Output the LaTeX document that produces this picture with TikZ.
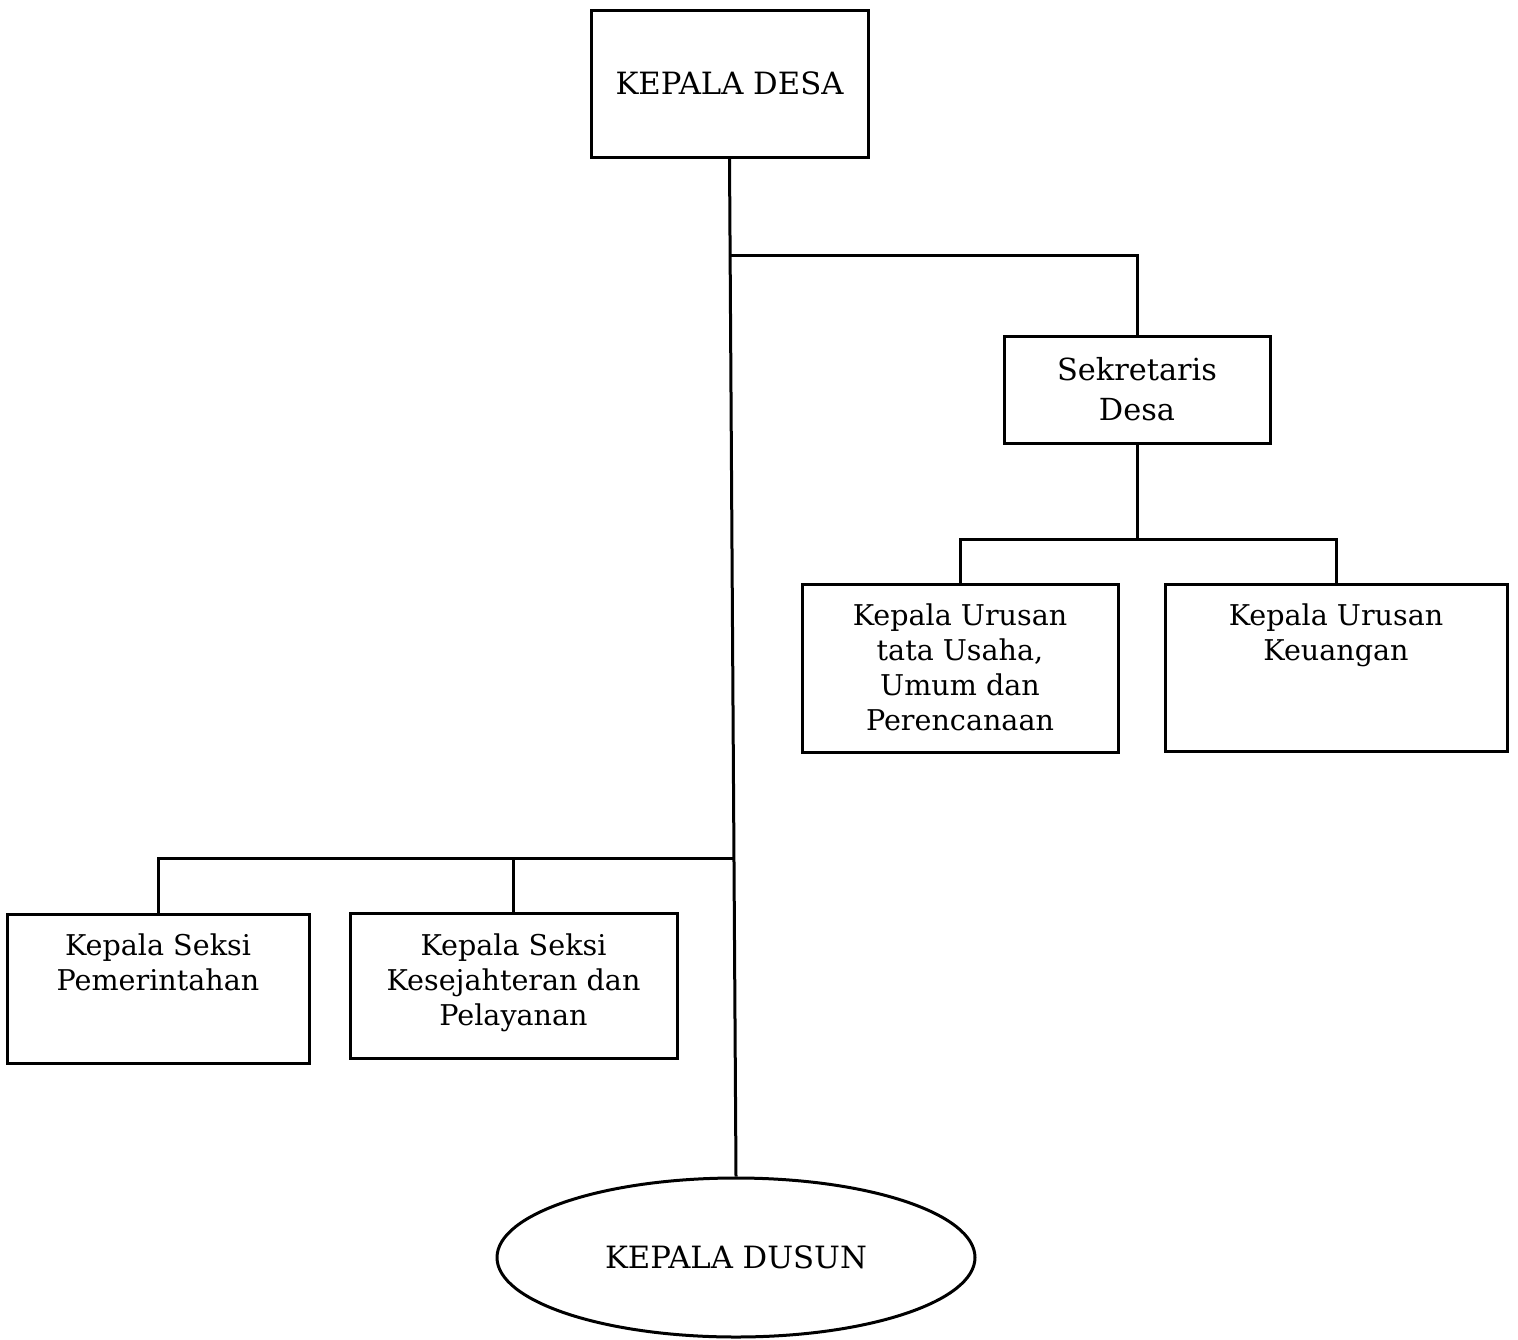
\documentclass[tikz,border=0pt]{standalone}
\usepackage{fontspec}
\setmainfont{DejaVu Serif}
\usetikzlibrary{shapes.geometric}
\begin{document}
\begin{tikzpicture}[x=1pt,y=-1pt,
  box/.style={draw,line width=3pt,rectangle,inner sep=0pt,align=center,font=\fontsize{28.6}{35}\selectfont},
  txt/.style={align=center,inner sep=0pt,font=\fontsize{28.6}{35}\selectfont},
  conn/.style={line width=3pt}]
\useasboundingbox (0,0) rectangle (1518,1339);
\node[box,minimum width=277pt,minimum height=147pt,font=\fontsize{30.7}{36}\selectfont] (desa) at (729.5,83.5) {KEPALA DESA};
\node[box,minimum width=266pt,minimum height=107pt,font=\fontsize{30.4}{40}\selectfont] (sek) at (1137,389.5) {Sekretaris\\Desa};
\node[box,minimum width=316pt,minimum height=168pt] (tu) at (960,668) {};
\node[txt] (tut) at (960,667) {Kepala Urusan\\tata Usaha,\\Umum dan\\Perencanaan};
\node[box,minimum width=342pt,minimum height=167pt] (keu) at (1336,667.5) {};
\node[txt] (keut) at (1336,635.5) {Kepala Urusan\\Keuangan};
\node[box,minimum width=302pt,minimum height=149pt] (pem) at (158,988.5) {};
\node[txt] (pemt) at (158,962.5) {Kepala Seksi\\Pemerintahan};
\node[box,minimum width=327pt,minimum height=145pt] (kes) at (513.5,985.5) {};
\node[txt] (kest) at (513.5,983) {Kepala Seksi\\Kesejahteran dan\\Pelayanan};
\node[draw,ellipse,line width=3pt,minimum width=478pt,minimum height=159pt,inner sep=0pt,font=\fontsize{30.7}{36}\selectfont] (dusun) at (736,1257.5) {KEPALA DUSUN};
\coordinate (j1) at (731,255);
\coordinate (j2) at (734,858);
\draw[conn] (desa.south) -- (dusun.north);
\draw[conn] (j1) -- (sek.north |- j1) -- (sek.north);
\draw[conn] (sek.south) -- ++(0,95) coordinate (j3);
\draw[conn] (tu.north) |- (j3) -| (keu.north);
\draw[conn] (j2) -| (pem.north);
\draw[conn] (kes.north) -- (kes.north |- j2);
\end{tikzpicture}
\end{document}
